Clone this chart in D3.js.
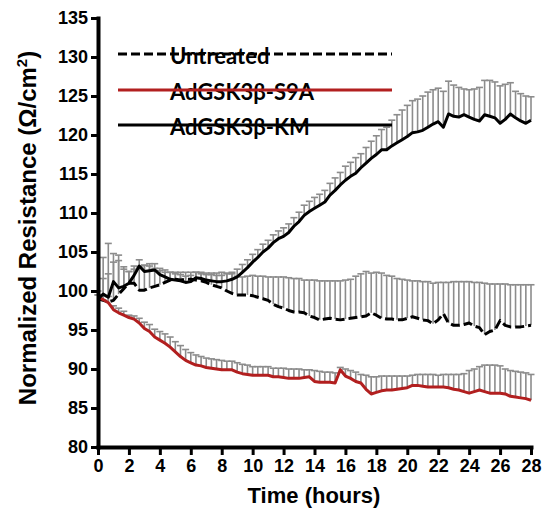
<!DOCTYPE html>
<html>
  <head>
    <meta charset="utf-8">
    <title>Normalized resistance</title>
    <script src="https://d3js.org/d3.v7.min.js"></script>
    <style>
      body { margin: 0; background: #fff; }
      .tick text { font-family: "Liberation Sans", Arial, sans-serif; font-weight: bold; font-size: 18px; fill: #000; }
      .axisTitle { font-family: "Liberation Sans", Arial, sans-serif; font-weight: bold; font-size: 22px; }
      .legendText { font-family: Lato, sans-serif; font-weight: bold; font-size: 22px; }
    </style>
  </head>
  <body>
    <svg id="chart" width="544" height="517"></svg>
    <script>
      // readings every 20 minutes, 0 to 28 hours
      var step = 1 / 3;
      var untreated = [
        99.0, 98.8, 98.6, 98.8, 99.6, 100.3, 101.0, 101.0, 100.1, 100.1, 100.4, 100.6,
        100.8, 101.1, 101.4, 101.5, 101.4, 101.5, 101.5, 101.4, 101.3, 101.1, 100.8, 100.6,
        100.4, 100.0, 99.7, 99.5, 99.5, 99.5, 99.4, 99.2, 99.0, 98.8, 98.3, 98.0,
        97.8, 97.5, 97.3, 97.3, 97.2, 96.8, 96.6, 96.3, 96.4, 96.5, 96.4, 96.3,
        96.4, 96.5, 96.6, 96.7, 96.8, 97.2, 96.9, 96.5, 96.4, 96.4, 96.3, 96.3,
        96.5, 96.7, 96.5, 96.3, 96.2, 95.8, 96.3, 97.1, 95.9, 95.6, 95.6, 95.7,
        95.9, 95.5, 95.3, 94.4, 94.8, 95.0, 96.2, 95.6, 95.4, 95.4, 95.4, 95.5, 95.6
      ];
      var untreatedErr = [
        1.0, 5.5, 7.5, 6.0, 5.0, 2.5, 1.5, 1.8, 3.0, 3.2, 2.8, 2.3,
        1.8, 1.3, 1.0, 0.9, 1.0, 0.9, 0.9, 1.0, 1.1, 1.2, 1.5, 1.7,
        2.0, 2.3, 2.5, 2.4, 2.3, 2.4, 2.6, 2.7, 2.9, 3.0, 3.5, 3.8,
        4.0, 4.2, 4.3, 4.3, 4.2, 4.6, 4.8, 5.0, 4.9, 4.8, 4.9, 5.0,
        5.0, 5.0, 5.3, 5.5, 5.7, 5.1, 5.5, 5.8, 5.6, 5.5, 5.3, 5.2,
        4.9, 4.6, 4.8, 4.9, 5.0, 5.2, 4.8, 4.0, 5.2, 5.6, 5.6, 5.5,
        5.3, 5.6, 5.8, 6.6, 6.1, 5.9, 4.7, 5.3, 5.4, 5.4, 5.4, 5.3, 5.2
      ];
      var s9a = [
        99.2, 98.9, 98.5, 97.6, 97.2, 96.9, 96.6, 96.4, 95.9, 95.2, 94.8, 94.1,
        93.7, 93.3, 92.8, 92.2, 91.6, 91.1, 90.8, 90.5, 90.4, 90.2, 90.1, 90.0,
        89.9, 89.9, 89.9, 89.6, 89.4, 89.3, 89.2, 89.2, 89.2, 89.2, 89.0, 89.0,
        88.9, 88.8, 88.8, 88.8, 88.9, 89.0, 88.4, 88.3, 88.3, 88.3, 88.2, 89.9,
        89.1, 88.8, 88.4, 88.2, 87.4, 86.8, 87.0, 87.2, 87.3, 87.3, 87.4, 87.5,
        87.6, 87.9, 87.9, 87.8, 87.7, 87.7, 87.7, 87.7, 87.6, 87.4, 87.3, 87.1,
        86.9, 87.1, 87.3, 87.1, 86.9, 86.9, 86.9, 86.8, 86.5, 86.4, 86.3, 86.2, 86.0
      ];
      var s9aErr = [
        0.3, 0.5, 0.8, 0.5, 0.6, 0.5, 0.3, 0.4, 0.6, 0.8, 0.9, 1.0,
        1.1, 1.2, 1.3, 1.3, 1.4, 1.4, 1.3, 1.3, 1.2, 1.2, 1.2, 1.2,
        1.2, 1.1, 1.1, 1.2, 1.2, 1.2, 1.1, 1.1, 1.1, 1.1, 1.1, 1.1,
        1.2, 1.2, 1.2, 1.2, 1.0, 0.9, 1.4, 1.4, 1.3, 1.3, 1.3, 0.3,
        0.9, 1.0, 1.2, 1.1, 1.8, 2.2, 2.0, 1.9, 1.8, 1.8, 1.7, 1.6,
        1.5, 1.3, 1.4, 1.5, 1.6, 1.6, 1.5, 1.6, 1.7, 1.9, 2.0, 2.3,
        2.9, 2.9, 3.0, 3.4, 3.6, 3.6, 3.5, 3.2, 3.3, 3.3, 3.3, 3.3, 3.3
      ];
      var km = [
        99.0, 99.6, 99.2, 101.2, 100.4, 100.6, 101.0, 102.0, 103.2, 102.5, 102.6, 102.7,
        102.1, 101.8, 101.5, 101.4, 101.3, 101.1, 101.2, 101.7, 101.6, 101.4, 101.3, 101.2,
        101.2, 101.3, 101.5, 101.8, 102.4, 103.0, 103.7, 104.3, 105.0, 105.5, 106.2, 106.7,
        107.0, 107.5, 108.3, 108.9, 109.7, 110.2, 110.6, 111.0, 111.4, 112.3, 112.9, 113.6,
        114.2, 114.7, 115.1, 115.8, 116.4, 117.0, 117.5, 118.1, 118.1, 118.6, 119.0, 119.4,
        119.8, 120.3, 120.4, 120.6, 121.0, 121.4, 121.7, 121.0, 122.7, 122.4, 122.3, 122.6,
        122.3, 122.0, 121.8, 122.6, 122.4, 122.2, 121.5, 122.0, 122.7, 122.2, 121.8, 121.5, 121.9
      ];
      var kmErr = [
        0.5, 2.0, 3.0, 2.5, 3.5, 2.5, 1.5, 1.2, 0.8, 0.8, 0.9, 0.8,
        0.8, 0.9, 0.9, 0.8, 0.8, 0.8, 0.8, 0.7, 0.6, 0.7, 0.8, 0.8,
        0.8, 0.9, 0.9, 1.0, 1.0, 1.0, 1.0, 1.0, 1.0, 1.0, 1.0, 1.0,
        1.1, 1.1, 1.1, 1.2, 1.3, 1.3, 1.4, 1.4, 1.5, 1.5, 1.6, 1.6,
        1.8, 1.8, 2.0, 1.8, 2.0, 2.2, 2.4, 2.6, 2.9, 3.3, 3.6, 3.8,
        4.0, 4.1, 4.2, 4.4, 4.5, 4.4, 4.3, 4.6, 4.2, 4.0, 3.8, 3.3,
        3.5, 3.9, 4.3, 4.4, 4.6, 4.6, 4.8, 4.5, 4.0, 3.4, 3.5, 3.5, 3.0
      ];
      var xTicks = d3.range(0, 29, 2);
      var yTicks = d3.range(80, 136, 5);
      var series = [
        { name: "Untreated", values: untreated, err: untreatedErr, colour: "#000", dash: "9,4" },
        { name: "AdGSK3\u03b2-S9A", values: s9a, err: s9aErr, colour: "#b21f1f", dash: null },
        { name: "AdGSK3\u03b2-KM", values: km, err: kmErr, colour: "#000", dash: null }
      ];

      var svg = d3.select("#chart");
      var x = d3.scaleLinear().domain([0, 28]).range([98, 531]);
      var y = d3.scaleLinear().domain([80, 135]).range([447, 18]);

      // error bars (upper only), behind the lines
      var bars = svg.append("g")
        .attr("stroke", "#8c8c8c")
        .attr("stroke-width", 1.6)
        .attr("fill", "none");
      series.forEach(function(s) {
        s.values.forEach(function(v, i) {
          var px = x(i * step);
          var top = y(v + s.err[i]);
          bars.append("line")
            .attr("x1", px).attr("x2", px)
            .attr("y1", y(v)).attr("y2", top);
          bars.append("line")
            .attr("x1", px - 3.5).attr("x2", px + 3.5)
            .attr("y1", top).attr("y2", top);
        });
      });

      // lines
      var line = d3.line()
        .x(function(d, i) { return x(i * step); })
        .y(function(d) { return y(d); });
      series.forEach(function(s) {
        svg.append("path")
          .datum(s.values)
          .attr("d", line)
          .attr("fill", "none")
          .attr("stroke", s.colour)
          .attr("stroke-width", 3)
          .attr("stroke-dasharray", s.dash)
          .attr("stroke-linejoin", "round");
      });

      // legend
      var legendY = [54, 90, 125];
      series.forEach(function(s, i) {
        svg.append("text")
          .classed("legendText", true)
          .attr("x", 170)
          .attr("y", legendY[i] + 10)
          .text(s.name);
        svg.append("line")
          .attr("x1", 118).attr("x2", 392)
          .attr("y1", legendY[i]).attr("y2", legendY[i])
          .attr("stroke", s.colour)
          .attr("stroke-width", 3)
          .attr("stroke-dasharray", s.dash);
      });

      // axes
      var xAxis = svg.append("g")
        .attr("transform", "translate(0,447)")
        .call(d3.axisBottom(x).tickValues(xTicks).tickSize(8).tickSizeOuter(0).tickPadding(4));
      var yAxis = svg.append("g")
        .attr("transform", "translate(98,0)")
        .call(d3.axisLeft(y).tickValues(yTicks).tickSize(7).tickSizeOuter(0).tickPadding(3));
      [xAxis, yAxis].forEach(function(a) {
        a.select(".domain").attr("stroke", "#000").attr("stroke-width", 4).attr("stroke-linecap", "square");
        a.selectAll(".tick line").attr("stroke", "#000").attr("stroke-width", 3);
      });

      svg.append("text")
        .classed("axisTitle", true)
        .attr("x", 314).attr("y", 503)
        .attr("text-anchor", "middle")
        .text("Time (hours)");
      var yTitle = svg.append("text")
        .classed("axisTitle", true)
        .style("font-size", "24px")
        .attr("transform", "translate(36,228) rotate(-90)")
        .attr("text-anchor", "middle");
      yTitle.append("tspan").text("Normalized Resistance (\u03a9/cm");
      yTitle.append("tspan").attr("dy", -9).style("font-size", "15px").text("2");
      yTitle.append("tspan").attr("dy", 9).text(")");
    </script>
  </body>
</html>
